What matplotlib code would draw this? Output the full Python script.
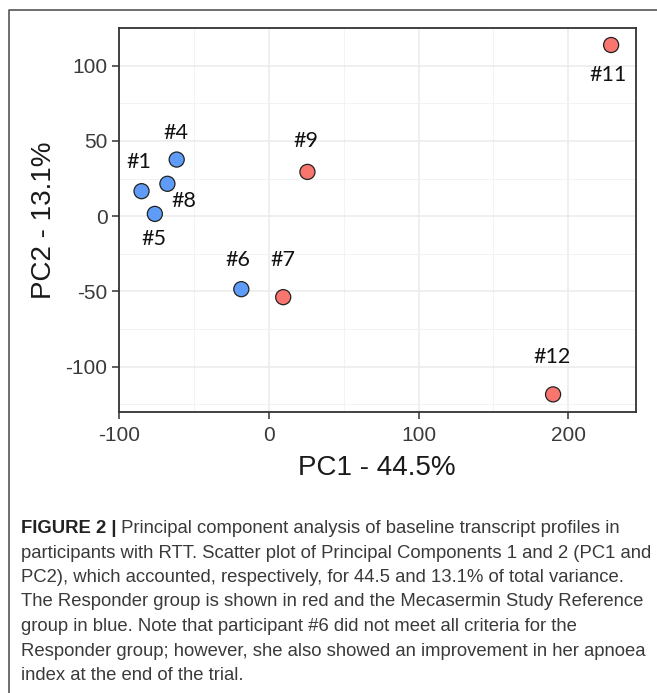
import matplotlib
matplotlib.use("Agg")
from matplotlib import pyplot as plt
from matplotlib.lines import Line2D

plt.rcParams["axes.unicode_minus"] = False

# participants (PC1, PC2)
ids = ["#1", "#4", "#5", "#6", "#7", "#8", "#9", "#11", "#12"]
pc1 = [-85.2, -61.7, -76.3, -18.5, 9.5, -67.9, 25.7, 228.7, 189.9]
pc2 = [16.6, 37.6, 1.5, -48.5, -53.8, 21.5, 29.4, 113.7, -118.4]
group = ["ref", "ref", "ref", "ref", "resp", "ref", "resp", "resp", "resp"]

# label offsets in pixels (dx right, dy up)
label_off = {
    "#1": (-3, 29), "#4": (-1, 27), "#5": (-1, -25), "#6": (-3, 29),
    "#7": (0, 37), "#8": (16, -17), "#9": (-2, 31), "#11": (-3, -30),
    "#12": (-1, 37),
}

xticks = [-100, 0, 100, 200]
yticks = [-100, -50, 0, 50, 100]
xminor = [-50, 50, 150]
yminor = [-125, -75, -25, 25, 75]

colors = {"resp": "#F8766D", "ref": "#5F9CF8"}

caption_head = "FIGURE 2 |"
caption_lines = [
    " Principal component analysis of baseline transcript profiles in",
    "participants with RTT. Scatter plot of Principal Components 1 and 2 (PC1 and",
    "PC2), which accounted, respectively, for 44.5 and 13.1% of total variance.",
    "The Responder group is shown in red and the Mecasermin Study Reference",
    "group in blue. Note that participant #6 did not meet all criteria for the",
    "Responder group; however, she also showed an improvement in her apnoea",
    "index at the end of the trial.",
]

W, H = 657, 693
DPI = 100
fig = plt.figure(figsize=(W / DPI, H / DPI), dpi=DPI)

# axes placed in pixel terms
left, right, top, bottom = 118.5, 635.5, 28.3, 412.3
ax = fig.add_axes([left / W, 1 - bottom / H, (right - left) / W, (bottom - top) / H])

ax.set_xlim(-100.6, 245.0)
ax.set_ylim(-130.3, 124.8)
ax.set_xticks(xticks)
ax.set_yticks(yticks)
ax.set_xticks(xminor, minor=True)
ax.set_yticks(yminor, minor=True)
ax.grid(True, which="major", color="#EBEBEB", lw=1.1, zorder=0)
ax.grid(True, which="minor", color="#F3F3F3", lw=0.7, zorder=0)
ax.tick_params(which="minor", length=0)
ax.tick_params(which="major", length=5, width=1.1, color="#333333",
               labelsize=15, labelcolor="#3a3a3a", pad=3)
ax.tick_params(axis="x", pad=5)
for lab in ax.get_xticklabels() + ax.get_yticklabels():
    lab.set_family("Liberation Sans")
for sp in ax.spines.values():
    sp.set_color("#333333")
    sp.set_linewidth(1.3)
ax.set_axisbelow(True)

ax.set_xlabel("PC1 - 44.5%", fontsize=20, family="Liberation Sans",
              color="#1a1a1a", labelpad=7)
ax.set_ylabel("PC2 - 13.1%", fontsize=20, family="Liberation Sans",
              color="#1a1a1a", labelpad=6)

ax.scatter(pc1, pc2, s=118, c=[colors[g] for g in group],
           edgecolors="#222222", linewidths=0.9, zorder=3)

for name, x, y in zip(ids, pc1, pc2):
    dx, dy = label_off[name]
    ax.annotate(name, (x, y), xytext=(dx * 72 / DPI, dy * 72 / DPI),
                textcoords="offset points", ha="center", va="center",
                fontsize=15.5, family="Lato", color="#111111")

# frame around the figure (only left and top edges are inside the image)
fx, fy = 8.5 / W, 1 - 9.5 / H
fig.add_artist(Line2D([fx, fx, 1.0], [0.0, fy, fy], transform=fig.transFigure,
                      color="#555555", lw=1.2))

# caption
cap_x = 21 / W
base0 = 533.0
step = 24.5
fs = 13.3
renderer = fig.canvas.get_renderer()
head = fig.text(cap_x, 1 - base0 / H, caption_head, fontsize=fs,
                family="Liberation Sans", weight="bold", color="#222222",
                va="baseline")
bb = head.get_window_extent(renderer)
fig.text(bb.x1 / W, 1 - base0 / H, caption_lines[0], fontsize=fs,
         family="Liberation Sans", color="#3a3a3a", va="baseline")
for i, line in enumerate(caption_lines[1:], start=1):
    fig.text(cap_x, 1 - (base0 + i * step) / H, line, fontsize=fs,
             family="Liberation Sans", color="#3a3a3a", va="baseline")

fig.savefig("out.png", dpi=DPI)
